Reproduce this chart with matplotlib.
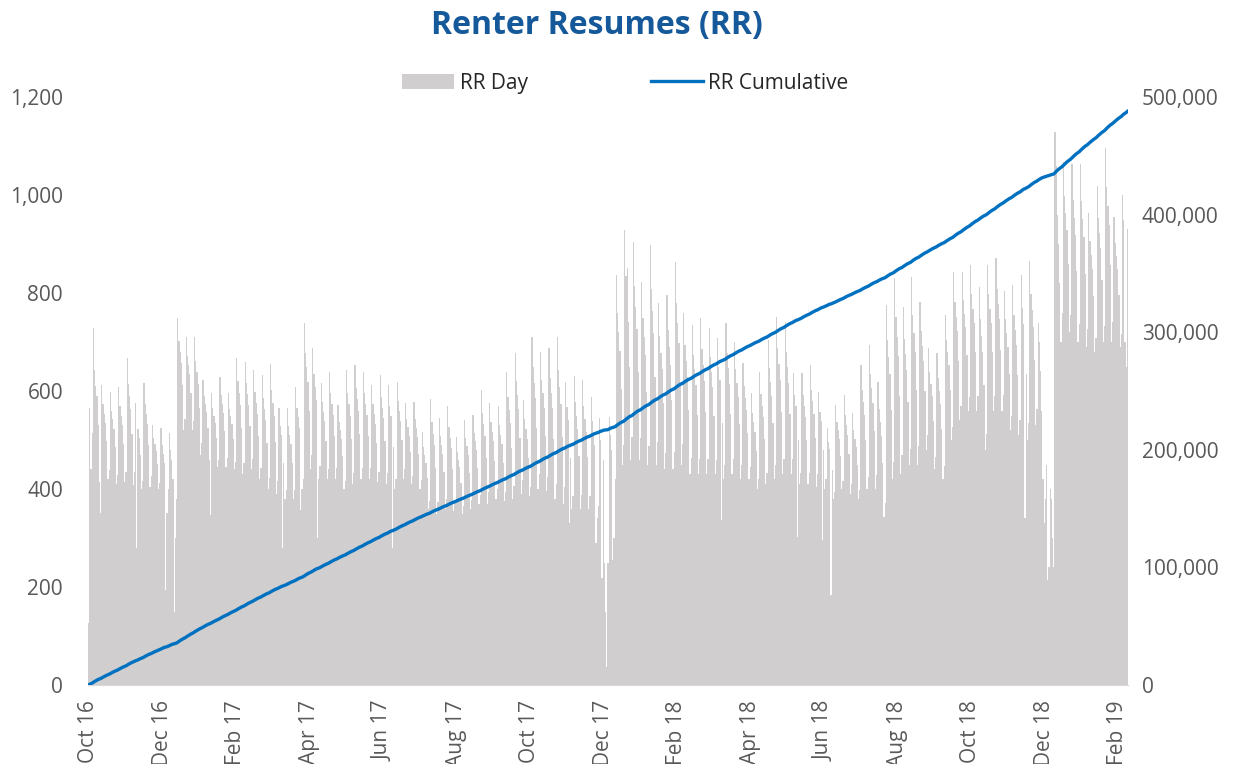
import numpy as np
import matplotlib
matplotlib.use("Agg")
import matplotlib.pyplot as plt
from matplotlib.ticker import FuncFormatter, MultipleLocator

# daily renter resumes (Oct 2016 -> Feb 2019)
rr_day_2016 = [
    127, 565, 440, 515,
    728, 643, 610, 590, 530, 415, 351,
    612, 574, 554, 535, 497, 420, 439,
    598, 560, 542, 523, 485, 410, 429,
    608, 569, 550, 531, 492, 415, 434,
    667, 615, 589, 563, 512, 408, 434,
    575, 280, 522, 505, 470, 400, 417,
    616, 574, 553, 532, 489, 405, 426,
    530, 504, 491, 478, 452, 400, 413,
    524, 489, 472, 454, 194, 351, 400,
    514, 480, 460, 420, 149, 300, 380,
]
rr_day_2017 = [
    749, 703, 680, 657, 612, 520, 543,
    710, 672, 653, 634, 596, 520, 539,
    710, 662, 638, 614, 566, 470, 494,
    622, 590, 573, 557, 525, 460, 347,
    595, 565, 550, 535, 505, 445, 460,
    629, 592, 574, 555, 519, 445, 463,
    595, 564, 549, 533, 502, 440, 456,
    667, 620, 596, 572, 525, 430, 454,
    660, 616, 594, 572, 528, 440, 462,
    643, 598, 576, 554, 509, 420, 442,
    633, 586, 563, 540, 493, 400, 423,
    656, 603, 576, 550, 496, 390, 417,
    565, 528, 510, 280, 454, 380, 399,
    565, 528, 510, 491, 454, 380, 399,
    608, 566, 546, 525, 357, 400, 421,
    738, 678, 649, 619, 559, 440, 470,
    688, 634, 608, 581, 300, 420, 447,
    616, 577, 557, 538, 498, 420, 440,
    639, 595, 573, 551, 508, 420, 442,
    571, 537, 520, 503, 468, 400, 417,
    643, 596, 573, 550, 503, 410, 433,
    653, 606, 583, 560, 513, 420, 443,
    639, 595, 573, 551, 508, 420, 442,
    612, 573, 553, 533, 494, 415, 435,
    633, 588, 566, 544, 499, 410, 432,
    612, 570, 548, 280, 485, 400, 421,
    619, 579, 559, 539, 500, 420, 440,
    575, 542, 526, 509, 476, 410, 427,
    578, 542, 525, 507, 471, 400, 418,
    516, 485, 469, 454, 422, 360, 376,
    583, 536, 513, 490, 443, 350, 373,
    545, 508, 490, 471, 434, 360, 379,
    569, 526, 505, 483, 441, 355, 376,
    506, 475, 459, 444, 412, 350, 366,
    541, 505, 487, 469, 432, 360, 378,
    551, 515, 497, 479, 442, 370, 388,
    602, 556, 532, 509, 463, 370, 393,
    575, 536, 517, 497, 458, 380, 400,
    569, 530, 511, 491, 453, 375, 394,
    639, 587, 561, 535, 484, 380, 406,
    678, 620, 592, 563, 505, 390, 419,
    582, 543, 523, 503, 464, 385, 405,
    710, 648, 617, 586, 524, 400, 431,
    680, 623, 595, 566, 509, 395, 424,
    688, 626, 596, 565, 503, 380, 411,
    710, 642, 608, 574, 506, 370, 404,
    619, 567, 541, 330, 464, 360, 386,
    631, 578, 550, 523, 468, 360, 387,
    622, 570, 543, 517, 465, 360, 386,
    588, 538, 514, 489, 290, 340, 365,
    545, 500, 218, 460, 249, 149, 37,
    250, 547, 510, 480, 255, 300, 420,
]
rr_day_2018 = [
    837, 760, 721, 682, 605, 450, 489,
    929, 835, 851, 741, 648, 460, 507,
    904, 815, 771, 726, 638, 460, 504,
    822, 748, 710, 673, 599, 450, 487,
    898, 808, 764, 719, 629, 450, 495,
    780, 712, 678, 644, 576, 440, 474,
    796, 725, 689, 654, 582, 440, 476,
    863, 780, 739, 698, 615, 450, 491,
    760, 694, 661, 628, 562, 430, 463,
    735, 674, 644, 613, 552, 430, 461,
    749, 685, 653, 621, 558, 430, 462,
    729, 669, 639, 609, 550, 430, 460,
    708, 650, 622, 337, 535, 420, 449,
    739, 677, 646, 615, 554, 430, 461,
    700, 644, 616, 588, 532, 420, 448,
    657, 610, 586, 562, 515, 420, 444,
    595, 556, 537, 517, 478, 400, 420,
    639, 593, 570, 547, 502, 410, 433,
    704, 647, 619, 590, 534, 420, 448,
    751, 687, 655, 623, 558, 430, 462,
    741, 679, 648, 617, 554, 430, 461,
    637, 592, 569, 302, 501, 410, 433,
    637, 592, 569, 546, 501, 410, 433,
    653, 603, 579, 554, 504, 405, 430,
    598, 558, 539, 296, 479, 400, 420,
    524, 495, 481, 184, 438, 380, 394,
    571, 537, 520, 503, 468, 400, 417,
    592, 552, 531, 511, 471, 390, 410,
    555, 520, 503, 485, 450, 380, 398,
    653, 602, 577, 552, 501, 400, 425,
    694, 635, 606, 576, 518, 400, 429,
    619, 564, 536, 509, 453, 343, 371,
    776, 705, 669, 634, 562, 420, 456,
    831, 751, 711, 671, 590, 430, 470,
    771, 707, 675, 643, 578, 450, 482,
    833, 756, 718, 680, 603, 450, 488,
    782, 722, 691, 661, 601, 480, 510,
    688, 638, 614, 589, 539, 440, 465,
    677, 626, 600, 574, 523, 420, 446,
    755, 704, 679, 653, 602, 500, 526,
    843, 782, 752, 722, 661, 540, 570,
    843, 786, 758, 730, 673, 560, 588,
    857, 798, 768, 738, 679, 560, 590,
    812, 746, 712, 679, 613, 480, 513,
    857, 798, 768, 738, 679, 560, 590,
    871, 809, 778, 747, 684, 560, 591,
    804, 747, 719, 690, 634, 520, 548,
    816, 755, 724, 694, 632, 510, 541,
    837, 770, 736, 340, 635, 500, 534,
    865, 798, 765, 731, 664, 530, 564,
    739, 700, 640, 560, 420, 330, 380,
    450, 215, 240, 400, 380, 300, 240,
]
rr_day_2019 = [
    1129, 1060, 960, 900, 820, 700, 760,
    1067, 998, 963, 928, 859, 720, 755,
    1063, 990, 954, 918, 845, 700, 736,
    1063, 988, 951, 914, 839, 690, 727,
    963, 906, 878, 850, 793, 680, 708,
    1018, 954, 923, 891, 827, 700, 732,
    1096, 1017, 977, 938, 858, 700, 740,
    955, 902, 876, 849, 796, 690, 717,
    1000, 950, 700, 650, 930,
]

month_labels = ["Oct 16", "Dec 16", "Feb 17", "Apr 17", "Jun 17", "Aug 17",
                "Oct 17", "Dec 17", "Feb 18", "Apr 18", "Jun 18", "Aug 18",
                "Oct 18", "Dec 18", "Feb 19"]
label_every = 61  # days between axis labels

rr_day = np.array(rr_day_2016 + rr_day_2017 + rr_day_2018 + rr_day_2019)
rr_cum = np.cumsum(rr_day)
days = np.arange(len(rr_day))

plt.rcParams['font.family'] = ['Open Sans', 'DejaVu Sans']
grey_txt = '#595959'

fig = plt.figure(figsize=(12.38, 7.64), dpi=100)
ax = fig.add_axes([0.0711, 0.1034, 0.840, 0.7696])
ax2 = ax.twinx()

bars = ax.bar(days, rr_day, width=1.0, color='#D0CECE', linewidth=0, label='RR Day')
line, = ax2.plot(days, rr_cum, color='#0070C0', lw=2.4, label='RR Cumulative')

ax.set_xlim(-0.5, len(rr_day) - 0.5)
ax.set_ylim(0, 1200)
ax2.set_ylim(0, 500000)
ax.yaxis.set_major_locator(MultipleLocator(200))
ax2.yaxis.set_major_locator(MultipleLocator(100000))
ax.yaxis.set_major_formatter(FuncFormatter(lambda v, p: f"{v:,.0f}"))
ax2.yaxis.set_major_formatter(FuncFormatter(lambda v, p: f"{v:,.0f}"))

ax.set_xticks(np.arange(len(month_labels)) * label_every)
ax.set_xticklabels(month_labels, rotation=90)

for a in (ax, ax2):
    for s in a.spines.values():
        s.set_visible(False)
ax.spines['bottom'].set_visible(True)
ax.spines['bottom'].set_color('#D9D9D9')

ax.tick_params(axis='y', length=0, pad=18, labelsize=15, labelcolor=grey_txt)
ax2.tick_params(axis='y', length=0, pad=10, labelsize=15, labelcolor=grey_txt)
ax.tick_params(axis='x', length=0, pad=11, labelsize=15, labelcolor=grey_txt)

fig.text(0.482, 0.966, "Renter Resumes (RR)", ha='center', va='center',
         fontsize=23, fontweight='bold', color='#15599A')
fig.legend(handles=[bars, line], loc='center', bbox_to_anchor=(0.505, 0.891),
           ncol=2, frameon=False, fontsize=15, handlelength=2.5, handleheight=0.7,
           columnspacing=5.9, handletextpad=0.25, labelcolor='#262626')

fig.savefig("out.png", dpi=100)
